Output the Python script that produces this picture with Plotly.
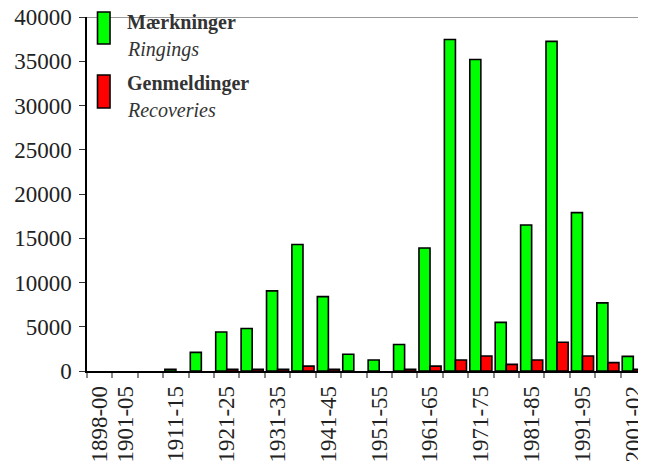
import plotly.graph_objects as go

categories = ["1898-00", "1901-05", "1906-10", "1911-15", "1916-20", "1921-25",
              "1926-30", "1931-35", "1936-40", "1941-45", "1946-50", "1951-55",
              "1956-60", "1961-65", "1966-70", "1971-75", "1976-80", "1981-85",
              "1986-90", "1991-95", "1996-00", "2001-02"]
ringings = [0, 0, 0, 200, 2100, 4400, 4800, 9050, 14300, 8400, 1900, 1250,
            3000, 13900, 37450, 35200, 5500, 16500, 37250, 17900, 7700, 1650]
recoveries = [0, 0, 0, 0, 0, 200, 200, 200, 550, 200, 0, 0,
              200, 550, 1250, 1700, 750, 1250, 3250, 1700, 950, 200]
shown_labels = ["1898-00", "1901-05", "1911-15", "1921-25", "1931-35", "1941-45",
                "1951-55", "1961-65", "1971-75", "1981-85", "1991-95", "2001-02"]
y_ticks = [0, 5000, 10000, 15000, 20000, 25000, 30000, 35000, 40000]

FONT = "Liberation Serif"
TXT = "#222222"

OFF = 8  # page body margin
FIG_W, FIG_H = 646 - OFF, 465 - OFF
L, T, W, H = 87, 17, 559, 354  # plot area in page pixels


def px(x):
    return (x - L) / W


def py(y):
    return (T + H - y) / H


def outline(vals):
    return [1.6 if v > 0 else 0 for v in vals]


fig = go.Figure()
fig.add_trace(go.Bar(x=categories, y=ringings, name="Mærkninger",
                     marker=dict(color="#00FF00",
                                 line=dict(color="black", width=outline(ringings))),
                     showlegend=False))
fig.add_trace(go.Bar(x=categories, y=recoveries, name="Genmeldinger",
                     marker=dict(color="#FF0000",
                                 line=dict(color="black", width=outline(recoveries))),
                     showlegend=False))

fig.update_layout(
    width=FIG_W, height=FIG_H,
    margin=dict(l=L - OFF, r=FIG_W - (L - OFF) - W, t=T - OFF,
                b=FIG_H - (T - OFF) - H, pad=0),
    paper_bgcolor="white", plot_bgcolor="white",
    barmode="group", bargap=0.13, bargroupgap=0.0,
    font=dict(family=FONT, color=TXT, size=23),
    xaxis=dict(
        type="category", automargin=False,
        tickmode="array", tickvals=categories,
        ticktext=[c if c in shown_labels else "" for c in categories],
        tickson="boundaries", ticks="outside", ticklen=5, tickcolor="#888888",
        tickwidth=1.5, ticklabelstandoff=4, ticklabeloverflow="allow",
        tickangle=-90, tickfont=dict(family=FONT, size=23, color=TXT),
        showline=True, linecolor="black", linewidth=1.5,
        showgrid=False, zeroline=False,
        range=[-0.5, 21.5],
    ),
    yaxis=dict(
        range=[0, 40000], tickmode="array", tickvals=y_ticks, automargin=False,
        ticktext=[str(v) for v in y_ticks],
        ticks="outside", ticklen=6, tickcolor="#333333", tickwidth=1.2,
        ticklabelstandoff=3, ticklabeloverflow="allow",
        tickfont=dict(family=FONT, size=23, color=TXT),
        showline=True, linecolor="black", linewidth=1.5,
        showgrid=False, zeroline=False,
    ),
)

# top border line
fig.add_shape(type="line", xref="paper", yref="y", x0=0, x1=1, y0=40000, y1=40000,
              line=dict(color="#777777", width=1.5))

# custom legend
fig.add_shape(type="rect", xref="paper", yref="paper",
              x0=px(97.5), x1=px(110), y0=py(44), y1=py(12),
              fillcolor="#00FF00", line=dict(color="black", width=1.6))
fig.add_shape(type="rect", xref="paper", yref="paper",
              x0=px(97.5), x1=px(110), y0=py(108), y1=py(75),
              fillcolor="#FF0000", line=dict(color="black", width=1.6))

legend_items = [("<b>Mærkninger</b>", 23), ("<i>Ringings</i>", 50),
                ("<b>Genmeldinger</b>", 84), ("<i>Recoveries</i>", 110)]
for txt, yc in legend_items:
    fig.add_annotation(text=txt, xref="paper", yref="paper",
                       x=px(125), y=py(yc),
                       xanchor="left", yanchor="middle", showarrow=False,
                       font=dict(family=FONT, size=20, color="#333333"))

fig.write_html("out.html")
